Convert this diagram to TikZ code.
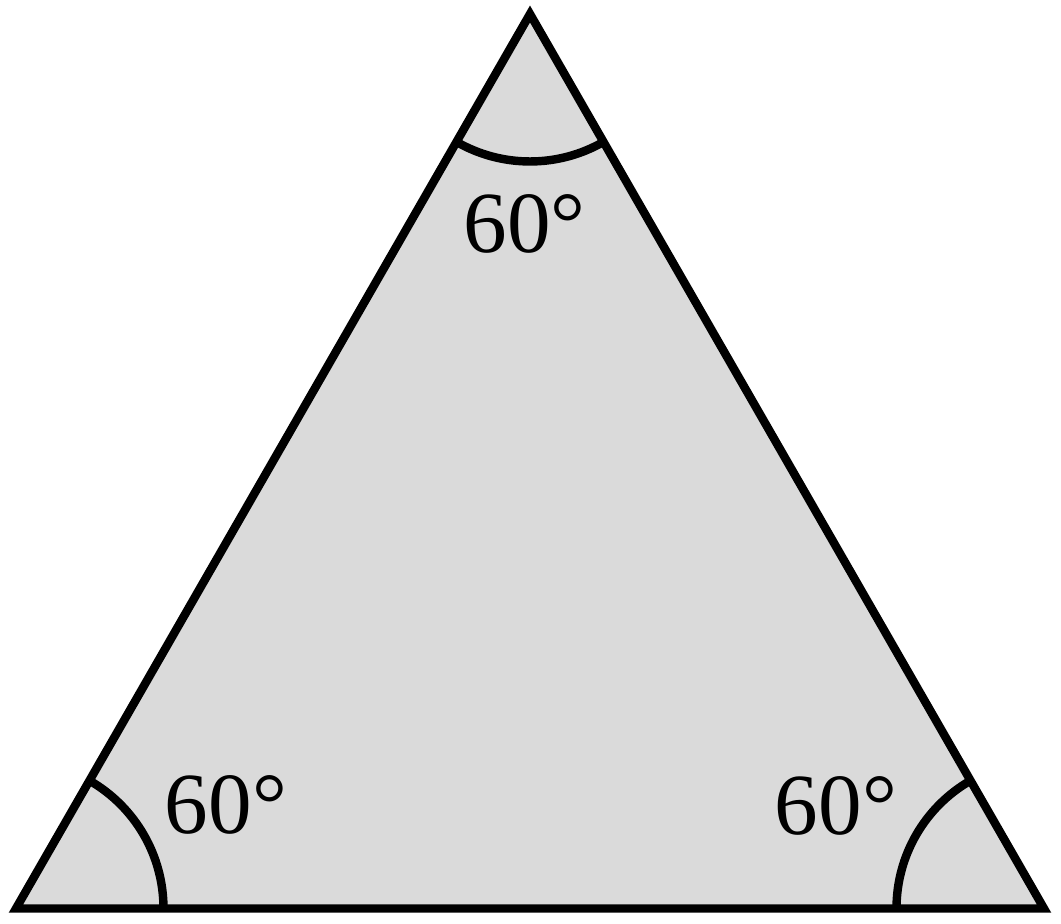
\documentclass[tikz,border=0pt]{standalone}
\usepackage{fontspec}
\setmainfont{Liberation Serif}
\usepackage{tikz}
\begin{document}
\begin{tikzpicture}
				\useasboundingbox (0,0) rectangle (10.61,9.24);
				\tikzset{side/.style={draw=black, line width=2.4pt},
					anglearc/.style={draw=black, line width=2.4pt},
					anglelabel/.style={font=\fontsize{24.8}{30}\selectfont, inner sep=0pt}}
				\coordinate (A) at (0.16,0.155);
				\coordinate (B) at (10.44,0.155);
				\coordinate (C) at (5.30,9.10);
				\filldraw[fill=black!14.5, side](A)--(B)--(C)--cycle;
				\draw[anglearc]([shift={(0:1.475)}]A) arc (0:60:1.475);
				\draw[anglearc]([shift={(120:1.475)}]B) arc (120:180:1.475);
				\draw[anglearc]([shift={(240:1.475)}]C) arc (240:300:1.475);
				\node[anglelabel] (labelC) at (5.245,7.005){60°};
				\node[anglelabel] (labelA) at (2.26,1.19){60°};
				\node[anglelabel] (labelB) at (8.36,1.185){60°};
			\end{tikzpicture}
\end{document}
